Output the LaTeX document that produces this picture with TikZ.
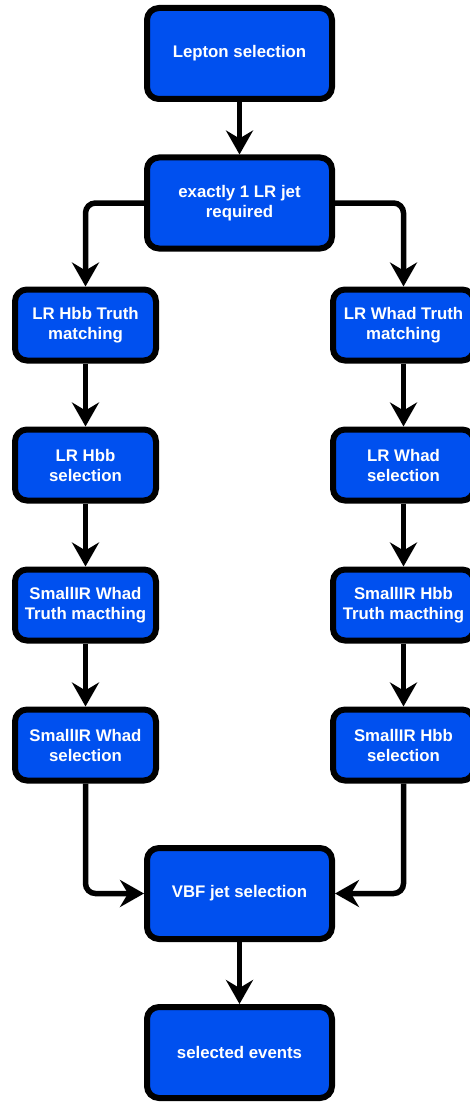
\documentclass[tikz,border=0pt]{standalone}
\usepackage{fontspec}
\setmainfont{Liberation Sans}
\usepackage{tikz}
\usetikzlibrary{arrows.meta}
\definecolor{boxblue}{HTML}{0050EF}

\begin{document}
\begin{tikzpicture}[x=1pt, y=-1pt, every node/.style={rectangle, draw, rounded corners=12pt, line width=6pt, fill=boxblue, text=white, align=center, font=\fontsize{16.8}{20}\selectfont\bfseries, minimum width=141pt, minimum height=71pt, inner sep=0pt}, big/.style={minimum width=185pt, minimum height=91pt}, flow/.style={line width=5.5pt, rounded corners=10pt, -{Stealth[length=24pt, width=27pt, inset=8pt]}}]
  \useasboundingbox (0, 0) rectangle (469, 1102);
  \node (lep) [big] at (239.5, 53.5) {Lepton selection};
  \node (jet) [big] at (239.5, 203) {exactly 1 LR jet\\required};
  \node (hbbt) at (85.5, 325) {LR Hbb Truth\\matching};
  \node (whadt) at (403.5, 325) {LR Whad Truth\\matching};
  \node (hbbs) at (85.5, 465) {LR Hbb\\selection};
  \node (whads) at (403.5, 465) {LR Whad\\selection};
  \node (swt) at (85.5, 605) {SmallIR Whad\\Truth macthing};
  \node (sht) at (403.5, 605) {SmallIR Hbb\\Truth macthing};
  \node (sws) at (85.5, 745) {SmallIR Whad\\selection};
  \node (shs) at (403.5, 745) {SmallIR Hbb\\selection};
  \node (vbf) [big] at (239.5, 893.5) {VBF jet selection};
  \node (sel) [big] at (239.5, 1052.5) {selected events};
  \draw [flow] (lep) -- (jet);
  \draw [flow] (jet.west) -| (hbbt.north);
  \draw [flow] (jet.east) -| (whadt.north);
  \draw [flow] (hbbt) -- (hbbs);
  \draw [flow] (hbbs) -- (swt);
  \draw [flow] (swt) -- (sws);
  \draw [flow] (whadt) -- (whads);
  \draw [flow] (whads) -- (sht);
  \draw [flow] (sht) -- (shs);
  \draw [flow] (sws.south) |- (vbf.west);
  \draw [flow] (shs.south) |- (vbf.east);
  \draw [flow] (vbf) -- (sel);
\end{tikzpicture}
\end{document}
